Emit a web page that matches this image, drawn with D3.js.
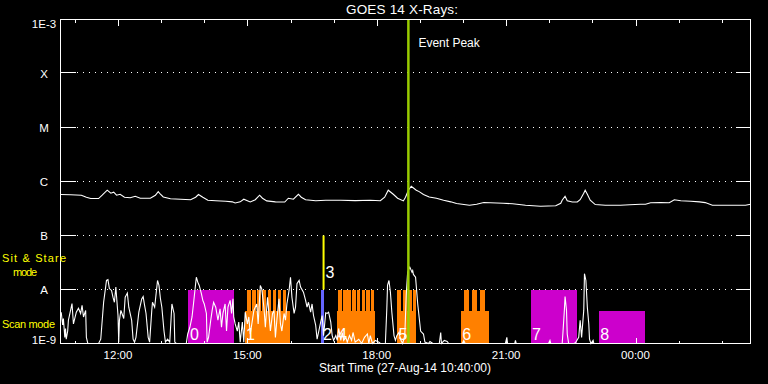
<!DOCTYPE html>
<html>
<head>
<meta charset="utf-8">
<script src="https://cdn.jsdelivr.net/npm/d3@7"></script>
<style>
  html, body { margin: 0; padding: 0; background: #000; }
  svg { display: block; }
  text { font-family: "Liberation Sans", Arial, sans-serif; fill: #fff; }
</style>
</head>
<body>
<svg id="chart" width="768" height="384"></svg>
<script>
// start of the plotted window and its length
const startTime = Date.UTC(2014, 7, 27, 10, 40);
const spanMinutes = 960;

// GOES 14 long channel (1-8 A): [minutes after start, flux in 1e-7 W/m2]
const longChannel = [
  [0, 5.74], [14, 5.7], [29, 5.57], [36, 5.11], [42, 4.83], [53, 4.83], [58, 5.57], [65, 6.9],
  [70, 6.06], [74, 6.33], [78, 5.57], [83, 5.81], [89, 5.11], [97, 5.0], [104, 5.34], [111, 4.9],
  [125, 4.9], [132, 5.57], [136, 6.5], [139, 5.81], [143, 5.18], [153, 4.8], [167, 4.7], [181, 4.6],
  [188, 5.11], [192, 5.74], [198, 5.11], [205, 4.5], [216, 4.4], [230, 4.31], [239, 4.2], [243, 4.0],
  [250, 4.2], [255, 4.7], [260, 4.4], [264, 4.17], [271, 4.6], [277, 5.57], [281, 4.9], [287, 4.37],
  [299, 4.2], [312, 4.17], [317, 4.9], [324, 4.7], [331, 5.81], [335, 5.11], [341, 4.6], [355, 4.4],
  [369, 4.5], [390, 4.5], [410, 4.43], [431, 4.5], [445, 4.4], [451, 5.11], [456, 6.9], [463, 5.81],
  [469, 4.9], [477, 4.37], [480, 5.11], [484, 6.9], [488, 8.17], [495, 6.9], [499, 6.5], [505, 5.74],
  [513, 5.18], [523, 4.9], [533, 4.5], [543, 4.2], [551, 3.9], [569, 3.63], [579, 3.79], [589, 4.07],
  [598, 4.04], [616, 3.96], [629, 3.87], [647, 3.63], [668, 3.48], [689, 3.55], [696, 3.96], [698, 4.5],
  [702, 5.34], [705, 4.4], [712, 4.17], [719, 4.17], [723, 4.6], [728, 6.06], [730, 6.9], [733, 5.81],
  [737, 4.5], [744, 3.74], [758, 3.63], [779, 3.63], [792, 3.71], [807, 3.79], [814, 3.79], [821, 4.04],
  [835, 4.07], [847, 4.04], [854, 4.6], [863, 4.4], [877, 4.31], [889, 4.2], [897, 4.07], [907, 3.63],
  [932, 3.63], [953, 3.63], [960, 3.79]
];

// GOES 14 short channel (0.5-4 A): [minutes after start, flux in 1e-9 W/m2]
const shortChannel = [
  [1, 3.8], [3, 2.2], [4, 2.9], [6, 1.3], [7, 1.9], [8, 1.2], [10, 1.7], [11, 2.7], [14, 4.1], [16, 5.5],
  [18, 2.3], [22, 3.8], [25, 4.5], [28, 3.6], [30, 5.1], [32, 3.1], [35, 4.1], [36, 1.3], [38, 1.0], [45, 1.0],
  [53, 1.0], [56, 1.2], [60, 5.8], [64, 14.7], [66, 15.2], [68, 10.4], [71, 9.6], [73, 7.2], [75, 5.8], [77, 11.1],
  [80, 3.3], [81, 1.06], [82, 2.7], [84, 4.1], [88, 2.9], [90, 7.2], [93, 8.6], [95, 4.7], [99, 2.7], [101, 1.2],
  [103, 1.06], [105, 1.3], [109, 3.8], [113, 6.7], [115, 7.4], [117, 5.1], [119, 3.6], [122, 1.3], [124, 1.06], [127, 4.1],
  [128, 5.8], [131, 4.7], [135, 14.7], [137, 11.9], [139, 6.8], [141, 4.7], [144, 1.7], [146, 1.06], [149, 1.2], [152, 1.06],
  [155, 5.4], [158, 3.6], [159, 1.06], [161, 1.0], [175, 1.0], [177, 1.5], [180, 2.0], [183, 3.1], [185, 5.4], [188, 12.8],
  [189, 16.9], [191, 13.7], [193, 11.9], [196, 8.4], [198, 6.3], [200, 5.4], [203, 3.6], [204, 1.06], [206, 1.3], [209, 2.7],
  [211, 4.1], [213, 5.8], [216, 4.7], [219, 2.7], [222, 4.4], [224, 2.0], [226, 3.6], [229, 5.4], [231, 1.7], [233, 4.7],
  [236, 6.3], [238, 3.6], [240, 6.7], [241, 3.1], [243, 2.3], [246, 1.7], [248, 2.5], [250, 1.06], [253, 2.5], [255, 1.06],
  [257, 3.8], [260, 2.3], [262, 3.1], [264, 1.5], [267, 2.7], [269, 4.1], [273, 5.4], [275, 2.3], [278, 11.9], [280, 10.3],
  [283, 4.7], [285, 2.0], [288, 7.2], [290, 3.6], [292, 1.7], [295, 3.6], [297, 4.1], [299, 1.3], [301, 2.7], [304, 6.7],
  [306, 2.3], [308, 1.7], [311, 3.6], [313, 2.7], [315, 5.4], [318, 9.6], [320, 16.9], [322, 7.2], [325, 3.6], [327, 4.7],
  [329, 12.8], [332, 14.7], [334, 11.1], [338, 8.9], [341, 6.3], [343, 4.7], [345, 5.8], [348, 3.8], [350, 5.4], [352, 3.3],
  [355, 2.2], [357, 1.2], [359, 1.6], [362, 2.5], [364, 3.3], [366, 1.4], [369, 3.7], [371, 3.6], [373, 3.8], [376, 2.5],
  [378, 1.4], [380, 1.14], [383, 1.4], [385, 1.14], [387, 1.9], [390, 1.14], [392, 1.6], [394, 1.14], [397, 1.3], [399, 1.06],
  [402, 1.4], [405, 1.14], [407, 1.6], [410, 1.06], [415, 1.2], [419, 1.0], [423, 1.3], [427, 1.5], [429, 1.0], [431, 1.4],
  [434, 1.0], [438, 1.14], [443, 1.06], [445, 1.0], [452, 1.0], [454, 4.4], [455, 11.9], [457, 14.7], [459, 8.9], [461, 3.8],
  [464, 1.4], [466, 1.14], [468, 1.4], [471, 1.6], [473, 1.2], [476, 1.0], [479, 1.4], [481, 7.8], [483, 21], [486, 26],
  [489, 21], [490, 22.5], [491, 19], [494, 16.9], [497, 5.4], [500, 2.3], [501, 1.7], [505, 1.5], [507, 1.06], [512, 1.0],
  [514, 1.09], [518, 1.0], [527, 1.0], [529, 1.6], [530, 1.0], [534, 1.14], [538, 1.09], [540, 1.0], [559, 1.0], [561, 1.14],
  [563, 1.0], [619, 1.0], [621, 1.3], [622, 1.0], [632, 1.0], [633, 1.14], [634, 1.0], [679, 1.0], [681, 1.14], [682, 1.0],
  [698, 1.0], [699, 1.55], [701, 4.1], [702, 7.4], [704, 4.1], [705, 1.5], [707, 1.0], [715, 1.0], [717, 1.06], [721, 1.3],
  [723, 2.7], [725, 1.3], [728, 4.1], [729, 19.6], [731, 14.7], [733, 4.7], [735, 2.3], [736, 1.2], [738, 1.0], [741, 1.14],
  [742, 1.0], [960, 1.0]
];

// y axis
const yTickValues = [1e-3, 1e-4, 1e-5, 1e-6, 1e-7, 1e-8, 1e-9];
const yTickLabels = ['1E-3', 'X', 'M', 'C', 'B', 'A', '1E-9'];
const gridLevels = [1e-4, 1e-5, 1e-6, 1e-7, 1e-8];

// observations: [id, start minute, end minute]
const scanBlocks = [
  ['1', 256, 319], ['4', 384, 438], ['5', 468, 495], ['6', 557, 596], ['8', 749, 813]
];
const stareBlocks = [
  ['0', 178, 242],
  ['1', 260, 265], ['1', 267, 272], ['1', 274, 279], ['1', 281, 286],
  ['1', 288, 293], ['1', 295, 300], ['1', 302, 307], ['1', 309, 314],
  ['2', 363, 367],
  ['4', 386, 391], ['4', 393, 398], ['4', 399, 404], ['4', 406, 411],
  ['4', 412, 417], ['4', 419, 424], ['4', 425, 430], ['4', 432, 436],
  ['5', 468, 474], ['5', 476, 482], ['5', 484, 489], ['5', 491, 495],
  ['6', 562, 569], ['6', 573, 579], ['6', 583, 590],
  ['7', 654, 718]
];
const markers = [['3', 366]];
const eventPeak = 484;

// flux levels used for the observation bars
const stareTop = 1e-8;
const scanTop = 4e-9;
const markerTop = 1e-7;

// colours per observation id
const obsColor = {
  0: '#cc00cc', 1: '#ff8000', 2: '#6666ff', 4: '#ff8000',
  5: '#ff8000', 6: '#ff8000', 7: '#cc00cc', 8: '#cc00cc'
};

function renderChart() {
  const svg = d3.select('#chart');
  const width = +svg.attr('width');
  const height = +svg.attr('height');

  // plot frame
  const left = 60.5;
  const right = 750.5;
  const top = 19.5;
  const bottom = 343.5;

  const x = d3
    .scaleUtc()
    .domain([new Date(startTime), new Date(startTime + spanMinutes * 60000)])
    .range([left, right]);
  const y = d3.scaleLog().domain([1e-9, 1e-3]).range([bottom, top]).clamp(true);
  const tx = (m) => x(new Date(startTime + m * 60000));

  svg.append('rect').attr('width', width).attr('height', height).attr('fill', '#000');

  // dotted grid at the class levels
  svg
    .selectAll('.grid')
    .data(gridLevels)
    .join('line')
    .attr('class', 'grid')
    .attr('x1', 77)
    .attr('x2', 735)
    .attr('y1', (d) => Math.round(y(d)) - 0.5)
    .attr('y2', (d) => Math.round(y(d)) - 0.5)
    .attr('stroke', '#fff')
    .attr('stroke-dasharray', '1 5');

  // scan mode blocks, then sit & stare blocks on top
  const bar = (sel, topLevel) =>
    sel
      .attr('x', (d) => tx(d[1]))
      .attr('width', (d) => tx(d[2]) - tx(d[1]))
      .attr('y', y(topLevel))
      .attr('height', y(1e-9) - y(topLevel))
      .attr('fill', (d) => obsColor[d[0]])
      .attr('shape-rendering', 'crispEdges');

  svg.selectAll('.scan').data(scanBlocks).join('rect').attr('class', 'scan').call(bar, scanTop);
  svg.selectAll('.stare').data(stareBlocks).join('rect').attr('class', 'stare').call(bar, stareTop);

  // marker line between A and B
  svg
    .selectAll('.marker')
    .data(markers)
    .join('line')
    .attr('class', 'marker')
    .attr('x1', (d) => tx(d[1]))
    .attr('x2', (d) => tx(d[1]))
    .attr('y1', y(markerTop))
    .attr('y2', y(stareTop))
    .attr('stroke', '#ffff00')
    .attr('stroke-width', 2);

  // the two GOES curves
  const longLine = d3
    .line()
    .x((d) => tx(d[0]))
    .y((d) => y(d[1] * 1e-7));
  const shortLine = d3
    .line()
    .x((d) => tx(d[0]))
    .y((d) => y(d[1] * 1e-9));

  svg
    .append('path')
    .attr('d', longLine(longChannel))
    .attr('fill', 'none')
    .attr('stroke', '#fff')
    .attr('stroke-width', 1.1);
  svg
    .append('path')
    .attr('d', shortLine(shortChannel))
    .attr('fill', 'none')
    .attr('stroke', '#fff')
    .attr('stroke-width', 1.1);

  // observation numbers
  const firstStart = {};
  scanBlocks.concat(stareBlocks).forEach((d) => {
    if (firstStart[d[0]] === undefined || d[1] < firstStart[d[0]]) firstStart[d[0]] = d[1];
  });
  const numLabels = Object.keys(firstStart).map((k) => [k, firstStart[k]]);
  svg
    .selectAll('.num')
    .data(numLabels)
    .join('text')
    .attr('class', 'num')
    .attr('x', (d) => tx(d[1]) + 1.5)
    .attr('y', y(1e-9) - 4)
    .attr('font-size', 16)
    .text((d) => d[0]);
  svg
    .selectAll('.marker-num')
    .data(markers)
    .join('text')
    .attr('class', 'marker-num')
    .attr('x', (d) => tx(d[1]) + 2)
    .attr('y', y(1.6e-8))
    .attr('font-size', 16)
    .text((d) => d[0]);

  // event peak
  svg
    .append('line')
    .attr('x1', tx(eventPeak))
    .attr('x2', tx(eventPeak))
    .attr('y1', top)
    .attr('y2', bottom)
    .attr('stroke', '#99cc00')
    .attr('stroke-width', 2.5);
  svg
    .append('text')
    .attr('x', tx(eventPeak) + 10)
    .attr('y', 47)
    .attr('font-size', 12)
    .text('Event Peak');

  // frame and ticks
  const axisG = svg.append('g').attr('stroke', '#fff').attr('shape-rendering', 'crispEdges');
  axisG
    .append('rect')
    .attr('x', left)
    .attr('y', top)
    .attr('width', right - left)
    .attr('height', bottom - top)
    .attr('fill', 'none');

  const hours = x.ticks(d3.utcHour.every(1));
  const isMajor = (d) => d.getUTCHours() % 3 === 0;
  hours.forEach((d) => {
    const len = isMajor(d) ? 6 : 3;
    const xx = Math.round(x(d)) + 0.5;
    axisG.append('line').attr('x1', xx).attr('x2', xx).attr('y1', top).attr('y2', top + len);
    axisG.append('line').attr('x1', xx).attr('x2', xx).attr('y1', bottom).attr('y2', bottom - len);
  });

  gridLevels.forEach((d) => {
    const yy = Math.round(y(d)) - 0.5;
    axisG.append('line').attr('x1', left).attr('x2', left + 15).attr('y1', yy).attr('y2', yy);
    axisG.append('line').attr('x1', right - 15).attr('x2', right).attr('y1', yy).attr('y2', yy);
  });

  // x tick labels
  svg
    .selectAll('.xlab')
    .data(hours.filter(isMajor))
    .join('text')
    .attr('class', 'xlab')
    .attr('x', (d) => x(d))
    .attr('y', 359)
    .attr('text-anchor', 'middle')
    .attr('font-size', 11.5)
    .text(d3.utcFormat('%H:%M'));

  // y tick labels (top one hangs, bottom one sits on the axis)
  svg
    .selectAll('.ylab')
    .data(yTickValues)
    .join('text')
    .attr('class', 'ylab')
    .attr('x', 44)
    .attr('y', (d, i) => (i === 0 ? top + 8 : i === yTickValues.length - 1 ? bottom : y(d) + 4.5))
    .attr('text-anchor', 'middle')
    .attr('font-size', 11.5)
    .text((d, i) => yTickLabels[i]);

  // titles
  svg
    .append('text')
    .attr('x', 402)
    .attr('y', 14)
    .attr('text-anchor', 'middle')
    .attr('font-size', 13.5)
    .attr('textLength', 112)
    .text('GOES 14 X-Rays:');
  svg
    .append('text')
    .attr('x', 405)
    .attr('y', 372)
    .attr('text-anchor', 'middle')
    .attr('font-size', 12)
    .text('Start Time (27-Aug-14 10:40:00)');

  // mode legend on the left
  const modeText = [
    ['Sit & Stare', 2, 262, 64],
    ['mode', 13, 276, 24],
    ['Scan mode', 2, 328, 53]
  ];
  svg
    .selectAll('.mode')
    .data(modeText)
    .join('text')
    .attr('class', 'mode')
    .attr('x', (d) => d[1])
    .attr('y', (d) => d[2])
    .attr('font-size', 11)
    .attr('textLength', (d) => d[3])
    .style('fill', '#ffff00')
    .text((d) => d[0]);
}

document.addEventListener('DOMContentLoaded', renderChart);
</script>
</body>
</html>
